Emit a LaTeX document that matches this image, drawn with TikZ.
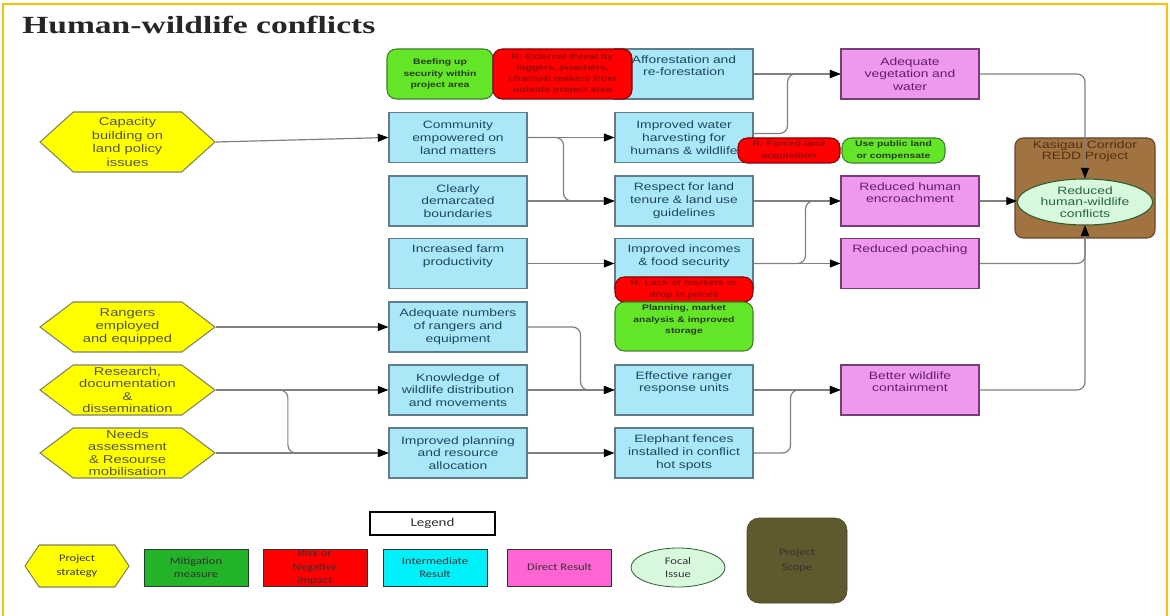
\documentclass[tikz,border=0pt]{standalone}
\usepackage{fontspec}
\usetikzlibrary{shapes.symbols,shapes.geometric,arrows.meta}
\newfontfamily\boxfont[FakeStretch=1.3]{Liberation Sans}
\newfontfamily\legfont[FakeStretch=1.25]{Carlito}
\newfontfamily\titlefont[FakeStretch=1.36]{Liberation Serif}
\definecolor{framec}{RGB}{255,192,0}
\definecolor{ifill}{RGB}{170,232,248}
\definecolor{ibord}{RGB}{95,125,140}
\definecolor{itext}{RGB}{30,70,100}
\definecolor{pfill}{RGB}{238,152,238}
\definecolor{pbord}{RGB}{120,60,120}
\definecolor{ptext}{RGB}{100,30,110}
\definecolor{hfill}{RGB}{255,255,0}
\definecolor{hbord}{RGB}{130,130,100}
\definecolor{htext}{RGB}{85,85,70}
\definecolor{gfill}{RGB}{100,230,40}
\definecolor{gbord}{RGB}{60,130,40}
\definecolor{gtext}{RGB}{40,60,20}
\definecolor{rfill}{RGB}{255,0,0}
\definecolor{rbord}{RGB}{140,0,0}
\definecolor{rtext}{RGB}{150,0,0}
\definecolor{bfill}{RGB}{160,115,65}
\definecolor{bbord}{RGB}{100,70,40}
\definecolor{btext}{RGB}{80,50,20}
\definecolor{efill}{RGB}{215,248,220}
\definecolor{ebord}{RGB}{45,95,45}
\definecolor{etext}{RGB}{40,100,60}
\definecolor{lineg}{RGB}{128,128,128}
\definecolor{lgreen}{RGB}{34,179,40}
\definecolor{lcyan}{RGB}{0,240,250}
\definecolor{lpink}{RGB}{255,100,210}
\definecolor{lolive}{RGB}{95,90,45}
\definecolor{ltext}{RGB}{50,50,50}
\tikzset{
  ibox/.style={draw=ibord, fill=ifill, line width=0.8pt, minimum width=103.5pt, minimum height=37.5pt,
    inner sep=0pt, text width=103pt, align=center, font=\boxfont\fontsize{8}{9.6}\selectfont, text=itext},
  pbox/.style={ibox, draw=pbord, fill=pfill, text=ptext},
  hexnode/.style={signal, signal to=west and east, draw=hbord, fill=hfill, line width=0.8pt,
    minimum width=131.25pt, inner sep=0pt, align=center, text=htext},
  gbox/.style={draw=gbord, fill=gfill, rounded corners=7pt, line width=0.8pt, inner sep=0pt, align=center,
    font=\boxfont\bfseries\fontsize{6}{8.4}\selectfont, text=gtext},
  rbox/.style={gbox, draw=rbord, fill=rfill, text=rtext},
  ellnode/.style={ellipse, draw=ebord, fill=efill, line width=0.8pt, inner sep=0pt, align=center,
    font=\boxfont\fontsize{8}{8.7}\selectfont, text=etext},
  legbox/.style={draw=ltext, line width=0.5pt, minimum width=78pt, minimum height=27.75pt, inner sep=0pt,
    align=center, font=\legfont\fontsize{7.5}{10}\selectfont, text=ltext},
  conn/.style={draw=lineg, line width=0.9pt, rounded corners=6pt,
    -{Triangle[length=8pt,width=6pt,color=black]}},
}
\begin{document}
\begin{tikzpicture}[x=0.75pt,y=-0.75pt]
\useasboundingbox (0,0) rectangle (1170,616);
\fill[white] (0,0) rectangle (1170,616);
\draw[framec, line width=1.5pt] (3,616) -- (3,4) -- (1167,4) -- (1167,616);

\node[anchor=base west, inner sep=0pt, font=\titlefont\bfseries\fontsize{18.5}{20}\selectfont, text=black!85] (title) at (22,34) {Human-wildlife conflicts};

% strategies
\node[hexnode, minimum height=45pt, signal pointer angle=84, font=\boxfont\fontsize{8.5}{10.3}\selectfont] (H1) at (127.5,142) {Capacity\\building on\\land policy\\issues};
\node[hexnode, minimum height=37.5pt, signal pointer angle=74, font=\boxfont\fontsize{8.5}{9.6}\selectfont] (H2) at (127.5,327) {Rangers\\employed\\and equipped};
\node[hexnode, minimum height=37.5pt, signal pointer angle=74, font=\boxfont\fontsize{8.5}{9.1}\selectfont] (H3) at (127.5,390) {Research,\\documentation\\\&\\dissemination};
\node[hexnode, minimum height=37.5pt, signal pointer angle=74, font=\boxfont\fontsize{8.5}{9.1}\selectfont] (H4) at (127.5,453) {Needs\\assessment\\\& Resourse\\mobilisation};

% intermediate results col 2
\node[ibox] (C1) at (458,137.5) {Community\\empowered on\\land matters};
\node[ibox] (C2) at (458,201) {Clearly\\demarcated\\boundaries};
\node[ibox] (C3) at (458,263.5) {Increased farm\\productivity\\\strut};
\node[ibox] (C4) at (458,327) {Adequate numbers\\of rangers and\\equipment};
\node[ibox] (C5) at (458,390) {Knowledge of\\wildlife distribution\\and movements};
\node[ibox] (C6) at (458,453) {Improved planning\\and resource\\allocation};

% intermediate results col 3
\node[ibox] (D0) at (684,74) {Afforestation and\\re-forestation\\\strut};
\node[ibox] (D1) at (684,137.5) {Improved water\\harvesting for\\humans \& wildlife};
\node[ibox] (D2) at (684,201) {Respect for land\\tenure \& land use\\guidelines};
\node[ibox] (D3) at (684,263.5) {Improved incomes\\\& food security\\\strut};
\node[ibox] (D5) at (684,390) {Effective ranger\\response units\\\strut};
\node[ibox] (D6) at (684,453) {Elephant fences\\installed in conflict\\hot spots};

% direct results
\node[pbox] (P1) at (910,74) {Adequate\\vegetation and\\water};
\node[pbox] (P2) at (910,201) {Reduced human\\encroachment\\\strut};
\node[pbox] (P3) at (910,263.5) {Reduced poaching\\\strut\\\strut};
\node[pbox] (P5) at (910,390) {Better wildlife\\containment\\\strut};

% risks and mitigations
\node[gbox, minimum width=79.5pt, minimum height=37.5pt] (G1) at (440,74) {Beefing up\\security within\\project area};
\node[rbox, minimum width=104.25pt, minimum height=37.5pt] (R1) at (562.5,74) {R: External threat by\\loggers, poachers,\\charcoal makers from\\outside project area};
\node[rbox, minimum width=76.5pt, minimum height=18.75pt] (R2) at (789,150.5) {R: Forced land\\acquisition};
\node[gbox, minimum width=77.25pt, minimum height=18.75pt] (G2) at (893.5,150.5) {Use public land\\or compensate};
\node[rbox, minimum width=103.5pt, minimum height=18.75pt] (R3) at (684,289.5) {R: Lack of markets or\\drop in prices};
\node[gbox, minimum width=103.5pt, minimum height=36.75pt] (G3) at (684,326.5) {Planning, market\\analysis \& improved\\storage\\\strut};

% project scope and focal issue
\node[draw=bbord, fill=bfill, line width=0.8pt, rounded corners=6pt, minimum width=105pt, minimum height=75pt,
  label={[name=Stitle, anchor=north, inner sep=2pt, align=center, font=\boxfont\fontsize{8}{8.6}\selectfont, text=btext]north:Kasigau Corridor\\REDD Project}] (S) at (1085,188) {};
\node[ellnode, minimum width=101.25pt, minimum height=34.5pt] (E) at (1085,202) {Reduced\\human-wildlife\\conflicts};

% connectors
\draw[conn] (H1.east) -- (C1.west);
\draw[conn] (H2.east) -- (C4.west);
\draw[conn] (H3.east) -- (C5.west);
\draw[conn] (H3.east) -- ++(72,0) |- (C6.west);
\draw[conn] (H4.east) -- (C6.west);
\draw[conn] (C1.east) -- (D1.west);
\draw[conn] (C1.east) -- ++(36,0) |- (D2.west);
\draw[conn] (C2.east) -- (D2.west);
\draw[conn] (C3.east) -- (D3.west);
\draw[conn] (C4.east) -- ++(53,0) |- (D5.west);
\draw[conn] (C5.east) -- (D5.west);
\draw[conn] (C6.east) -- (D6.west);
\draw[conn] (D0.east) -- (P1.west);
\draw[conn] ([yshift=3pt]D1.east) -- ++(34,0) |- (P1.west);
\draw[conn] (D2.east) -- (P2.west);
\draw[conn] (D3.east) -- ++(52,0) |- (P2.west);
\draw[conn] (D3.east) -- (P3.west);
\draw[conn] (D5.east) -- (P5.west);
\draw[conn] (D6.east) -- ++(37,0) |- (P5.west);
\draw[conn] (P1.east) -| (E.north);
\draw[conn] (P2.east) -- (P2.east -| E.west);
\draw[conn] (P3.east) -| (E.south);
\draw[conn] (P5.east) -| (E.south);

% legend
\node[draw=black, line width=1.5pt, fill=white, minimum width=93.75pt, minimum height=17.25pt, inner sep=0pt,
  font=\legfont\fontsize{9}{10}\selectfont, text=ltext] (Lt) at (432.5,523.5) {Legend};
\node[hexnode, minimum width=78pt, minimum height=31.5pt, signal pointer angle=112, font=\legfont\fontsize{7.5}{10}\selectfont, text=ltext] (LH) at (77,566) {Project\\strategy};
\node[legbox, fill=lgreen] (LG) at (196,567.5) {Mitigation\\measure};
\node[legbox, fill=rfill] (LR) at (315,567.5) {Risk or\\Negative\\impact};
\node[legbox, fill=lcyan] (LC) at (435,567.5) {Intermediate\\Result};
\node[legbox, fill=lpink] (LP) at (559.5,567.5) {Direct Result};
\node[ellipse, draw=ebord, fill=efill, line width=0.6pt, minimum width=70.5pt, minimum height=29.25pt, inner sep=0pt,
  align=center, font=\legfont\fontsize{7.5}{10}\selectfont, text=ltext] (LE) at (678,567.5) {Focal\\Issue};
\node[draw=lolive!70!black, fill=lolive, rounded corners=9pt, minimum width=75pt, minimum height=63.75pt, inner sep=0pt,
  align=center, font=\legfont\fontsize{7.5}{11}\selectfont, text=black!80] (LO) at (797,560.5) {Project\\Scope};
\end{tikzpicture}
\end{document}
